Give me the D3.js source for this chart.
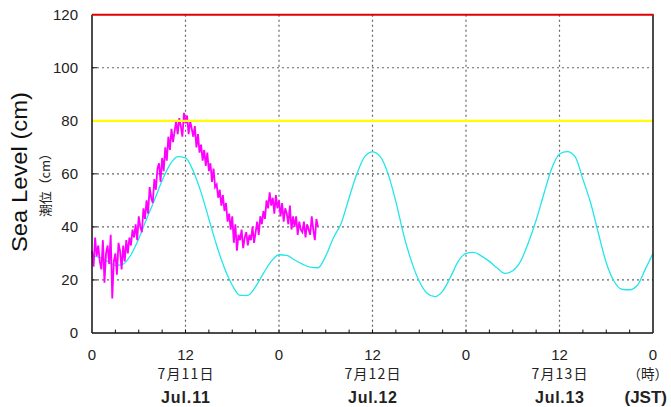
<!DOCTYPE html>
<html><head><meta charset="utf-8">
<script src="https://cdn.jsdelivr.net/npm/d3@7"></script>
<style>body{margin:0;background:#fff}svg{display:block}</style>
</head><body><div id="chart"></div>
<script>
// hours since 7/11 00:00 JST
const yTicks = [0, 20, 40, 60, 80, 100, 120];
const xTickHours = [0, 12, 24, 36, 48, 60, 72];
const xTickLabels = ["0", "12", "0", "12", "0", "12", "0"];
const dateLabels = [{h: 12, ja: "7月11日", en: "Jul.11"}, {h: 36, ja: "7月12日", en: "Jul.12"}, {h: 60, ja: "7月13日", en: "Jul.13"}];
const warnLevel = 80;     // yellow line
const topLevel = 120;     // red line

// astronomical tide, hourly 0..72
const tideHours = d3.range(0, 73);
const tideValues = [29, 28.5, 27, 25.5, 26, 29.5, 35.5, 43, 50, 57.5, 63.5, 66.5, 66, 61, 53, 43, 33, 24.5, 18, 14.2, 14.2, 17.5, 22.5, 27, 29.5, 29.3, 27.5, 26, 24.8, 24.6, 29, 36, 41.5, 51, 60, 66.5, 68.3, 66.5, 60, 49.5, 37, 27, 19.5, 15, 13.7, 15.8, 21, 27, 30, 30.4, 29, 27, 24.5, 22.5, 23.5, 27, 34, 42.5, 52.5, 62, 67.5, 68.4, 66.5, 58, 49, 37.5, 26.5, 19.5, 16.5, 16.3, 18, 24, 30];

// observed sea level, every 0.2 h from 0 to 29.0
const obsStep = 0.2;
const obsValues = [
 31, 25, 36, 29, 33,
 27, 24, 35, 19, 30,
 33, 26, 37, 13, 27,
 30, 22, 34, 31, 24,
 33, 27, 35, 30, 36,
 33, 39, 36, 41, 35,
 44, 40, 38, 47, 43,
 50, 45, 55, 51, 49,
 58, 54, 62, 64, 57,
 66, 61, 70, 65, 74,
 69, 77, 72, 76, 80,
 75, 81, 78, 74, 83,
 79, 82, 75, 80, 77,
 74, 78, 70, 75, 68,
 71, 65, 69, 63, 68,
 61, 64, 57, 62, 55,
 56, 51, 54, 48, 52,
 46, 49, 42, 45, 39,
 44, 34, 41, 31, 37,
 35, 39, 32, 36, 38,
 33, 37, 35, 40, 34,
 38, 42, 37, 44, 41,
 46, 43, 50, 47, 53,
 48, 51, 45, 52, 47,
 50, 44, 49, 42, 47,
 45, 41, 48, 39, 44,
 40, 44, 37, 42, 39,
 38, 42, 36, 41, 39,
 37, 44, 39, 35, 43,
 40];

const W = 671, H = 407;
const L = 92, R = 653, T = 14.7, B = 333;
const svg = d3.select("#chart").append("svg").attr("width", W).attr("height", H);
const x = d3.scaleLinear().domain([0, 72]).range([L, R]);
const y = d3.scaleLinear().domain([0, 120]).range([B, T]);
const font = "'Liberation Sans', Arial, sans-serif";
const jfont = "'Noto Sans CJK JP', 'Liberation Sans', sans-serif";

// grid
const grid = svg.append("g").attr("stroke", "#666").attr("stroke-width", 1.2).attr("stroke-dasharray", "2,3");
yTicks.filter(v => v > 0 && v < 120).forEach(v => grid.append("line").attr("x1", L).attr("x2", R).attr("y1", y(v)).attr("y2", y(v)));
xTickHours.filter(h => h > 0 && h < 72).forEach(h => grid.append("line").attr("x1", x(h)).attr("x2", x(h)).attr("y1", T).attr("y2", B));

// minor ticks every 3 h
const minor = d3.range(3, 72, 3);
svg.append("g").selectAll("line").data(minor).join("line")
  .attr("x1", d => x(d)).attr("x2", d => x(d)).attr("y1", B).attr("y2", B - 3.5)
  .attr("stroke", "#111").attr("stroke-width", 1);
// y ticks inward
svg.append("g").selectAll("line").data(yTicks.filter(v => v > 0 && v < 120)).join("line")
  .attr("x1", L).attr("x2", L + 5).attr("y1", d => y(d)).attr("y2", d => y(d))
  .attr("stroke", "#111").attr("stroke-width", 1);

// tide line
svg.append("path").datum(tideHours.map((h, i) => [h, tideValues[i]]))
  .attr("fill", "none").attr("stroke", "#22e6ea").attr("stroke-width", 1.3)
  .attr("d", d3.line().x(d => x(d[0])).y(d => y(d[1])).curve(d3.curveMonotoneX));

// observed
svg.append("path").datum(obsValues.map((v, i) => [i * obsStep, v]))
  .attr("fill", "none").attr("stroke", "#ff00ff").attr("stroke-width", 1.8)
  .attr("d", d3.line().x(d => x(d[0])).y(d => y(d[1])));

// reference lines
svg.append("line").attr("x1", L).attr("x2", R).attr("y1", y(warnLevel)).attr("y2", y(warnLevel))
  .attr("stroke", "#ffff00").attr("stroke-width", 2.2);

// frame
svg.append("line").attr("x1", L).attr("x2", L).attr("y1", T).attr("y2", B).attr("stroke", "#111").attr("stroke-width", 1.5);
svg.append("line").attr("x1", R).attr("x2", R).attr("y1", T).attr("y2", B).attr("stroke", "#111").attr("stroke-width", 1.5);
svg.append("line").attr("x1", L).attr("x2", R).attr("y1", B).attr("y2", B).attr("stroke", "#111").attr("stroke-width", 1.5);
svg.append("line").attr("x1", L).attr("x2", R + 0.7).attr("y1", y(topLevel)).attr("y2", y(topLevel))
  .attr("stroke", "#e00000").attr("stroke-width", 2);

// y tick labels
svg.append("g").selectAll("text").data(yTicks).join("text")
  .attr("x", 78).attr("y", d => y(d)).attr("dy", "0.36em").attr("text-anchor", "end")
  .attr("font-family", font).attr("font-size", 15).attr("fill", "#222").text(d => d);

// x tick labels
svg.append("g").selectAll("text").data(xTickHours).join("text")
  .attr("x", d => x(d)).attr("y", 360).attr("text-anchor", "middle")
  .attr("font-family", font).attr("font-size", 15).attr("fill", "#222").text((d, i) => xTickLabels[i]);

dateLabels.forEach(d => {
  svg.append("text").attr("x", x(d.h)).attr("y", 379).attr("text-anchor", "middle")
    .attr("font-family", jfont).attr("font-size", 14).attr("fill", "#222")
    .attr("textLength", 56).attr("lengthAdjust", "spacing").text(d.ja);
  svg.append("text").attr("x", x(d.h)).attr("y", 403).attr("text-anchor", "middle")
    .attr("font-family", font).attr("font-size", 16).attr("font-weight", "bold").attr("fill", "#222")
    .attr("textLength", 49).attr("lengthAdjust", "spacing").text(d.en);
});
svg.append("text").attr("x", 668).attr("y", 379).attr("text-anchor", "end")
  .attr("font-family", jfont).attr("font-size", 13.5).attr("fill", "#222").text("（時）");
svg.append("text").attr("x", 667).attr("y", 403).attr("text-anchor", "end")
  .attr("font-family", font).attr("font-size", 17).attr("font-weight", "bold").attr("fill", "#222").text("(JST)");

// y axis titles
svg.append("text").attr("transform", "translate(27,172) rotate(-90)").attr("text-anchor", "middle")
  .attr("font-family", font).attr("font-size", 22).attr("fill", "#111")
  .attr("textLength", 160).attr("lengthAdjust", "spacingAndGlyphs").text("Sea Level (cm)");
svg.append("text").attr("transform", "translate(50,182) rotate(-90)").attr("text-anchor", "middle")
  .attr("font-family", jfont).attr("font-size", 13).attr("fill", "#222")
  .attr("textLength", 70).attr("lengthAdjust", "spacing").text("潮位（cm）");
</script></body></html>
